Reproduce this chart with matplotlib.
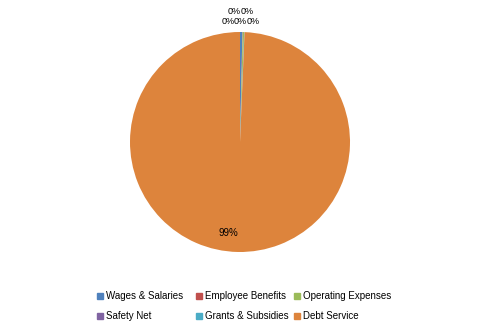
import matplotlib
matplotlib.use("Agg")
import matplotlib.pyplot as plt
import numpy as np

categories = ["Wages & Salaries", "Employee Benefits", "Operating Expenses",
              "Safety Net", "Grants & Subsidies", "Debt Service"]
values = [0.35, 0.05, 0.2, 0.01, 0.05, 99.34]
colors = ["#4F81BD", "#C0504D", "#9BBB59", "#8064A2", "#4BACC6", "#DD843C"]

W, H = 480, 333
fig = plt.figure(figsize=(4.8, 3.33), dpi=100)
ax = fig.add_axes([0, 0, 1, 1])

cx, cy, r = 240, H - 142, 110
wedges, texts = ax.pie(values, colors=colors, startangle=90, counterclock=False,
                       radius=r, center=(cx, cy), frame=True,
                       wedgeprops=dict(linewidth=0))
ax.set_xlim(0, W)
ax.set_ylim(0, H)
ax.set_aspect("equal")
ax.axis("off")

total = sum(values)
# label positions in pixels (x, y from top) for the tiny slices, clustered above the pie
small_pos = [(234, 11), (247, 11), (228, 21), (240.5, 21), (253, 21)]
k = 0
for v in values:
    frac = v / total
    pct = f"{frac*100:.0f}%"
    if frac > 0.5:
        x, y = cx - 12, cy - 91
        fs = 7
    else:
        px, py = small_pos[k]
        k += 1
        x, y = px, H - py
        fs = 6.5
    ax.text(x, y, pct, ha="center", va="center", fontsize=fs, family="Liberation Sans")

# legend laid out in a 3-column grid, row-major like the reference
col_x = [97, 196, 294]
row_y = [296, 316]
for i, (lab, col) in enumerate(zip(categories, colors)):
    rx = col_x[i % 3]
    ry = row_y[i // 3]
    ax.add_patch(plt.Rectangle((rx, H - ry - 3), 6, 6, color=col, clip_on=False))
    ax.text(rx + 9, H - ry, lab, ha="left", va="center", fontsize=7,
            family="Liberation Sans")
fig.savefig("out.png", dpi=100)
